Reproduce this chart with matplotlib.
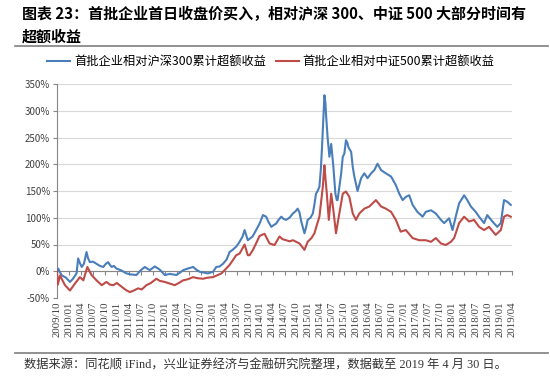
import matplotlib
matplotlib.use("Agg")
import matplotlib.pyplot as plt
from matplotlib.lines import Line2D

plt.rcParams['font.family'] = ['Noto Sans CJK SC', 'DejaVu Sans']
plt.rcParams['axes.unicode_minus'] = False

# months since 2009/10
hs300_x = [0, 0.3, 0.75, 1.25, 2.25, 3.25, 4, 4.9, 5.3, 5.75, 6.2, 6.75, 7.4, 7.75, 8.25, 9, 9.9,
           10.75, 11.6, 12.25, 12.8, 13.25, 13.7, 14.25, 14.9, 16, 17.4, 18.5, 19.9, 21, 22, 22.6,
           23.25, 24.5, 25.1, 25.75, 27, 28.25, 29.9, 30.75, 31.6, 32.75, 34.1, 34.9, 35.75, 37.8,
           39.1, 39.9, 40.75, 41.6, 42.5, 43.25, 44, 44.9, 45.75, 46.5, 47, 47.8, 49, 49.75, 50.75,
           51.6, 52.4, 53, 53.7, 54.25, 54.9, 55.5, 56.2, 56.75, 57.4, 58.25, 59.1, 59.75, 60.3,
           60.75, 61.2, 61.6, 62, 62.4, 62.8, 63.5, 64.1, 64.5, 64.9, 65.3, 65.75, 66.1, 66.4,
           66.75, 67, 67.25, 67.4, 67.8, 68.25, 68.7, 69, 69.25, 69.75, 70.1, 70.3, 70.75, 71.2,
           71.6, 72, 72.4, 72.75, 73, 73.7, 74.1, 74.5, 75.3, 76.2, 77, 77.8, 78.7, 79.5, 80.3,
           81.2, 82.4, 83.7, 84.9, 85.75, 86.6, 87.4, 88.25, 89.1, 90.3, 91.6, 92.4, 93.7, 94.9,
           96.2, 97, 98.25, 99.1, 99.9, 100.75, 102, 102.8, 103.7, 104.9, 105.75, 107, 107.8,
           109.1, 110.3, 111.2, 112, 112.8, 113.7]
hs300_y = [0, 5, -2, -8, -12, -20, -14, -4, 24, 15, 8, 14, 36, 25, 17, 18, 14,
           10, 8, 14, 17, 12, 8, 10, 5, 2, -4, -6, -7, 2, 8, 5,
           2, 9, 6, 3, -7, -5, -7, -3, 2, 5, 8, 3, -1, -4,
           -1, 8, 9, 14, 22, 36, 40, 46, 55, 65, 77, 58, 65, 75, 89,
           105, 102, 92, 83, 86, 89, 96, 102, 98, 96, 100, 108, 112, 117,
           110, 93, 82, 71, 82, 96, 100, 108, 125, 145, 150, 158, 190, 232,
           290, 329, 315, 294, 250, 214, 238, 215, 195, 145, 133, 133, 158, 183,
           214, 220, 245, 240, 232, 223, 195, 177, 150, 174, 183, 174, 183, 189, 201,
           189, 183, 177, 161, 145, 133, 139, 142, 124, 111, 102, 111, 114, 108,
           96, 90, 99, 77, 102, 127, 142, 133, 121, 111, 102, 90, 105,
           93, 83, 90, 133, 130, 124]

zz500_x = [0, 0.2, 0.75, 2, 3.25, 4.5, 5.75, 6.6, 7.6, 8.7, 9.9, 11.2, 12.4, 13.25, 14.1, 15,
           16.2, 17.25, 18.25, 19.25, 20.3, 21.25, 22.4, 23.5, 24.9, 25.75, 27, 28.25, 29.5,
           30.5, 31.6, 32.75, 34.1, 35.25, 36.6, 37.75, 39.1, 40, 41.2, 42.25, 43.25, 44, 44.9,
           45.75, 47, 47.8, 48.25, 49.1, 49.75, 50.75, 52, 53.25, 54.5, 55.75, 56.5, 57.4, 58.25,
           59.1, 60.75, 62, 62.8, 63.75, 64.5, 65.25, 65.75, 66.6, 67, 67.25, 67.6, 68.1, 68.7,
           69.25, 69.9, 70.6, 71.6, 72.4, 73.25, 74.1, 74.9, 75.75, 77, 78.25, 79.9, 81.2, 82.4,
           83.7, 84.9, 86.1, 87.4, 89.1, 90.75, 92.4, 93.7, 94.9, 96.2, 97.4, 98.7, 99.5, 100.75,
           102, 103.25, 104.5, 105.75, 107, 108.25, 109.9, 111.2, 112, 112.8, 113.7]
zz500_y = [0, -25, -8, -26, -36, -23, -11, -17, 8, -7.5, -17, -26, -20, -25, -26, -22,
           -29, -35, -39, -36, -32, -34, -26, -22, -14, -18, -20, -23, -26,
           -22, -17, -15, -11, -13, -14, -12, -11, -8, -4, 4, 12, 20, 30,
           33, 50, 30, 30, 40, 50, 66, 70, 52, 49, 65, 60, 58, 56,
           58, 52, 40, 55, 62, 71, 90, 102, 158, 198, 175, 145, 96, 145,
           114, 71, 102, 145, 149, 139, 108, 96, 108, 117, 121, 133, 121, 117,
           111, 96, 74, 77, 62, 58, 58, 55, 62, 52, 49, 55, 62, 90,
           102, 93, 96, 83, 77, 83, 68, 77, 102, 105, 102]

tick_labels = ['2009/10', '2010/01', '2010/04', '2010/07', '2010/10', '2011/01', '2011/04',
               '2011/07', '2011/10', '2012/01', '2012/04', '2012/07', '2012/10', '2013/01',
               '2013/04', '2013/07', '2013/10', '2014/01', '2014/04', '2014/07', '2014/10',
               '2015/01', '2015/04', '2015/07', '2015/10', '2016/01', '2016/04', '2016/07',
               '2016/10', '2017/01', '2017/04', '2017/07', '2017/10', '2018/01', '2018/04',
               '2018/07', '2018/10', '2019/01', '2019/04']
y_ticks = [-50, 0, 50, 100, 150, 200, 250, 300, 350]

blue = '#4A7EBB'
red = '#BE4B48'

fig = plt.figure(figsize=(5.5, 3.82), dpi=100)
ax = fig.add_axes([57 / 550, 1 - 298 / 382, 455 / 550, 214 / 382])

# spine position first: moving it resets the tick labels
for s in ['top', 'right']:
    ax.spines[s].set_visible(False)
ax.spines['left'].set_color('#868686')
ax.spines['bottom'].set_position(('data', 0))
ax.spines['bottom'].set_color('#868686')
ax.spines['bottom'].set_zorder(2)

for v in y_ticks:
    ax.axhline(v, color='#d9d9d9', lw=0.8, zorder=0)
ax.plot(hs300_x, hs300_y, color=blue, lw=1.5, zorder=3)
ax.plot(zz500_x, zz500_y, color=red, lw=1.5, zorder=4)

ax.set_xlim(0, 114)
ax.set_ylim(-50, 350)
ax.set_yticks(y_ticks)
ax.set_yticklabels([f'{v}%' for v in y_ticks])
ax.set_xticks(range(0, 115, 3))
ax.set_xticklabels(tick_labels, rotation=90, va='top', ha='center', family='Liberation Serif')
ax.tick_params(axis='y', length=3, color='#868686', labelsize=7, labelcolor='#404040', pad=2)
ax.tick_params(axis='x', length=3, color='#868686', labelsize=7.8, labelcolor='#404040', pad=19)

handles = [Line2D([], [], color=blue, lw=1.5), Line2D([], [], color=red, lw=1.5)]
fig.legend(handles, ['首批企业相对沪深300累计超额收益', '首批企业相对中证500累计超额收益'],
           loc='center', bbox_to_anchor=(271 / 550, 1 - 62 / 382), ncol=2, frameon=False,
           fontsize=8.8, handlelength=1.9, handletextpad=0.3, columnspacing=0.8)

fig.text(22 / 550, 1 - 14 / 382, '图表 23：首批企业首日收盘价买入，相对沪深 300、中证 500 大部分时间有',
         fontsize=10.8, fontweight='bold', va='center', ha='left')
fig.text(22 / 550, 1 - 37 / 382, '超额收益', fontsize=10.8, fontweight='bold', va='center', ha='left')
fig.add_artist(Line2D([15 / 550, 548 / 550], [1 - 46 / 382, 1 - 46 / 382], color='#7f7f7f', lw=1.2))
fig.add_artist(Line2D([15 / 550, 548 / 550], [1 - 353 / 382, 1 - 353 / 382], color='#7f7f7f', lw=1.2))
fig.text(24 / 550, 1 - 366 / 382, '数据来源：同花顺 iFind，兴业证券经济与金融研究院整理，数据截至 2019 年 4 月 30 日。',
         fontsize=8.8, va='center', ha='left', color='#333333',
         family=['Liberation Serif', 'Noto Sans CJK SC'])

fig.savefig('out.png', dpi=100)
